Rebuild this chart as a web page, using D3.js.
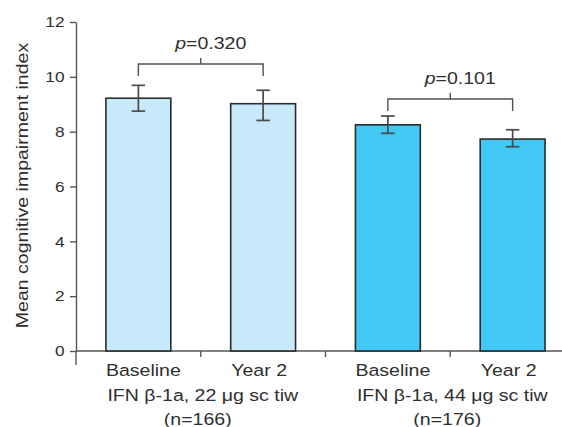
<!DOCTYPE html>
<html><head><meta charset="utf-8">
<script src="https://cdn.jsdelivr.net/npm/d3@7"></script>
<style>body{margin:0;background:#fff} svg{display:block}</style>
</head><body><svg id="c" width="562" height="427"></svg>
<script>
// ---- data ----
const categories = ["Baseline", "Year 2", "Baseline", "Year 2"];
const groupOf = [0, 0, 1, 1];
const groups = ["IFN β-1a, 22 μg sc tiw", "IFN β-1a, 44 μg sc tiw"];
const groupN = ["(n=166)", "(n=176)"];
const means = [9.22, 9.02, 8.25, 7.73];
const errLow = [8.75, 8.41, 7.94, 7.45];
const errHigh = [9.69, 9.51, 8.57, 8.07];
const pValues = ["0.320", "0.101"];
const bracketLevel = [10.47, 9.19];
const yTicks = [0, 2, 4, 6, 8, 10, 12];
const yLabel = "Mean cognitive impairment index";

// ---- style ----
const fills = ["#c8e9f9", "#c8e9f9", "#41c8f3", "#41c8f3"];
const SX = 1.15; // horizontal text stretch
const FONT = "'Liberation Sans', Arial, Helvetica, sans-serif";
const TXT = "#2f2f2f";
const AX = "#555";

const svg = d3.select("#c");
svg.append("rect").attr("width", 562).attr("height", 427).attr("fill", "#fff");

const x = d3.scaleBand().domain(d3.range(categories.length))
  .range([76, 575]).paddingInner(0.48).paddingOuter(0.24);
const y = d3.scaleLinear().domain([0, 12]).range([351, 22]);
const step = x.step();

function stretchText(sel, tx, ty) {
  return sel.attr("transform", `translate(${tx},${ty}) scale(${SX},1)`);
}

// y axis (ticks via d3.axisLeft, labels drawn from the same scale)
const yAxis = svg.append("g").attr("transform", "translate(76,0)")
  .call(d3.axisLeft(y).tickValues(yTicks).tickSize(6).tickFormat(() => "").tickSizeOuter(0));
yAxis.select(".domain").attr("stroke", AX).attr("stroke-width", 1.4);
yAxis.selectAll(".tick line").attr("stroke", AX).attr("stroke-width", 1.4);
yTicks.forEach(v => {
  const t = svg.append("text").attr("text-anchor", "end")
    .style("font-family", FONT).style("font-size", "15px").attr("fill", TXT)
    .attr("dy", "0.35em").text(d3.format("d")(v));
  stretchText(t, 64.5, y(v));
});
svg.append("line").attr("x1", 76).attr("x2", 76).attr("y1", y(0)).attr("y2", y(0) + 14)
  .attr("stroke", AX).attr("stroke-width", 1.4);

// x axis baseline
svg.append("line").attr("x1", 76).attr("x2", 562).attr("y1", y(0)).attr("y2", y(0))
  .attr("stroke", AX).attr("stroke-width", 1.4);
// ticks between bars
d3.range(1, categories.length).forEach(i => {
  const tx = x(i) - step * x.paddingInner() / 2;
  svg.append("line").attr("x1", tx).attr("x2", tx).attr("y1", y(0)).attr("y2", y(0) + 6)
    .attr("stroke", AX).attr("stroke-width", 1.4);
});

// bars
svg.selectAll("rect.bar").data(means).join("rect").attr("class", "bar")
  .attr("x", (d, i) => x(i)).attr("width", x.bandwidth())
  .attr("y", d => y(d)).attr("height", d => y(0) - y(d))
  .attr("fill", (d, i) => fills[i]).attr("stroke", "#2a2a2a").attr("stroke-width", 1.6);

// error bars
const capW = 13.5;
means.forEach((m, i) => {
  const cx = x(i) + x.bandwidth() / 2;
  const g = svg.append("g").attr("stroke", "#4a4a4a").attr("stroke-width", 1.7);
  g.append("line").attr("x1", cx).attr("x2", cx).attr("y1", y(errLow[i])).attr("y2", y(errHigh[i]));
  g.append("line").attr("x1", cx - capW / 2).attr("x2", cx + capW / 2).attr("y1", y(errHigh[i])).attr("y2", y(errHigh[i]));
  g.append("line").attr("x1", cx - capW / 2).attr("x2", cx + capW / 2).attr("y1", y(errLow[i])).attr("y2", y(errLow[i]));
});

// brackets with p values
groups.forEach((gname, gi) => {
  const idx = d3.range(categories.length).filter(i => groupOf[i] === gi);
  const x1 = x(idx[0]) + x.bandwidth() / 2;
  const x2 = x(idx[idx.length - 1]) + x.bandwidth() / 2;
  const by = y(bracketLevel[gi]);
  const mid = (x1 + x2) / 2;
  svg.append("path")
    .attr("d", `M${x1},${by + 12}V${by}H${x2}V${by + 12}M${mid},${by}V${by - 6}`)
    .attr("fill", "none").attr("stroke", "#505050").attr("stroke-width", 1.4);
  const t = svg.append("text").attr("text-anchor", "middle")
    .style("font-family", FONT).style("font-size", "17px").attr("fill", TXT);
  stretchText(t, mid + 10, by - 15);
  t.append("tspan").attr("font-style", "italic").text("p");
  t.append("tspan").text("=" + pValues[gi]);
});

// category labels
const labelShift = { "Baseline": 5, "Year 2": -4 };
categories.forEach((c, i) => {
  const t = svg.append("text").attr("text-anchor", "middle")
    .style("font-family", FONT).style("font-size", "17px").attr("fill", TXT).text(c);
  stretchText(t, x(i) + x.bandwidth() / 2 + (labelShift[c] || 0), 376);
});
// group labels
groups.forEach((gname, gi) => {
  const idx = d3.range(categories.length).filter(i => groupOf[i] === gi);
  const mid = (x(idx[0]) + x(idx[idx.length - 1]) + x.bandwidth()) / 2;
  const t1 = svg.append("text").attr("text-anchor", "middle")
    .style("font-family", FONT).style("font-size", "17px").attr("fill", TXT).text(gname);
  stretchText(t1, mid + 2, 400.5);
  const t2 = svg.append("text").attr("text-anchor", "middle")
    .style("font-family", FONT).style("font-size", "17px").attr("fill", TXT).text(groupN[gi]);
  stretchText(t2, mid - 3, 424.5);
});

// y label
svg.append("text").attr("text-anchor", "middle")
  .style("font-family", FONT).style("font-size", "17px").attr("fill", TXT)
  .attr("transform", `translate(27.5,185.5) rotate(-90) scale(${SX},1)`)
  .text(yLabel);
</script>
</body></html>
